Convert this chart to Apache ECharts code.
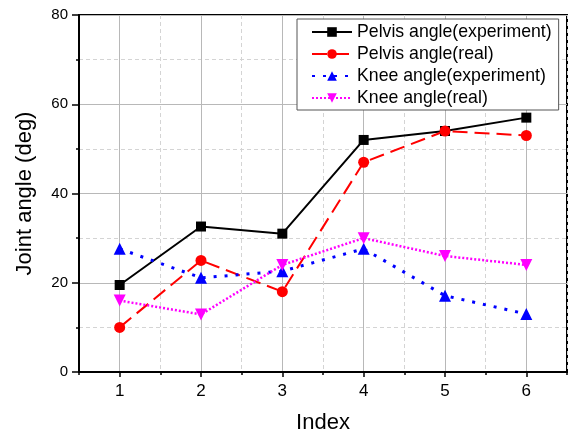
<!DOCTYPE html>
<html>
<head>
<meta charset="utf-8">
<script src="https://cdn.jsdelivr.net/npm/echarts@6/dist/echarts.min.js"></script>
<style>
    html, body {margin: 0; padding: 0; background: #fff;}
    #main {width: 569px; height: 439px;}
</style>
</head>
<body>
<div id="main"></div>
<script>
// 数据
var indexes = [1, 2, 3, 4, 5, 6];
var pelvisExp = [19.5, 32.6, 31.0, 52.0, 54.0, 57.0];
var pelvisReal = [10.0, 25.0, 18.0, 47.0, 54.0, 53.0];
var kneeExp = [27.6, 21.1, 22.6, 27.6, 17.1, 13.0];
var kneeReal = [16.0, 12.9, 24.0, 30.0, 26.0, 24.0];
var yTicks = [0, 20, 40, 60, 80];

var font = '"Liberation Sans", Arial, sans-serif';

function pairs(values) {
    return indexes.map(function (x, i) {
        return [x, values[i]];
    });
}

function makeSeries(name, values, color, lineType, width, symbol, size, rotate) {
    return {
        name: name,
        type: 'line',
        data: pairs(values),
        symbol: symbol,
        symbolSize: size,
        symbolRotate: rotate || 0,
        showSymbol: true,
        lineStyle: {color: color, width: width, type: lineType},
        itemStyle: {color: color},
        emphasis: {disabled: true},
        animation: false
    };
}

var chart = echarts.init(document.getElementById('main'));
chart.setOption({
    backgroundColor: '#fff',
    textStyle: {fontFamily: font},
    grid: {
        left: 79, right: 2, top: 15, bottom: 64,
        show: true, borderColor: '#000', borderWidth: 2, backgroundColor: 'transparent'
    },
    legend: {
        orient: 'vertical',
        left: 297,
        top: 19,
        itemWidth: 40,
        itemHeight: 12,
        itemGap: 2,
        padding: [3, 7, 2, 14],
        borderColor: '#555',
        borderWidth: 1,
        backgroundColor: '#fff',
        textStyle: {fontFamily: font, fontSize: 17.7, lineHeight: 20, color: '#000'},
        data: ['Pelvis angle(experiment)', 'Pelvis angle(real)', 'Knee angle(experiment)', 'Knee angle(real)']
    },
    xAxis: {
        type: 'value',
        min: 0.5,
        max: 6.5,
        interval: 1,
        name: 'Index',
        nameLocation: 'middle',
        nameGap: 40,
        nameTextStyle: {fontFamily: font, fontSize: 22, color: '#000'},
        axisLine: {show: true, lineStyle: {color: '#000', width: 2}},
        axisTick: {show: true, inside: false, length: 3, lineStyle: {color: '#000', width: 1.5}},
        minorTick: {show: true, splitNumber: 2, length: 5, lineStyle: {color: '#000', width: 1.5}},
        axisLabel: {
            customValues: indexes,
            fontFamily: font, fontSize: 17, color: '#000', margin: 11
        },
        splitLine: {show: true, lineStyle: {color: '#d4d4d4', width: 1, type: [4, 3]}},
        minorSplitLine: {show: true, lineStyle: {color: '#b8b8b8', width: 1}}
    },
    yAxis: {
        type: 'value',
        min: yTicks[0],
        max: yTicks[yTicks.length - 1],
        interval: 20,
        name: 'Joint angle (deg)',
        nameLocation: 'middle',
        nameGap: 43,
        nameTextStyle: {fontFamily: font, fontSize: 22, color: '#000'},
        axisLine: {show: true, lineStyle: {color: '#000', width: 2}},
        axisTick: {show: true, inside: false, length: 7, lineStyle: {color: '#000', width: 1.5}},
        minorTick: {show: true, splitNumber: 2, length: 3, lineStyle: {color: '#000', width: 1.5}},
        axisLabel: {fontFamily: font, fontSize: 15, color: '#000', margin: 11},
        splitLine: {show: true, lineStyle: {color: '#b8b8b8', width: 1}},
        minorSplitLine: {show: true, lineStyle: {color: '#d4d4d4', width: 1, type: [4, 3]}}
    },
    series: [
        makeSeries('Pelvis angle(experiment)', pelvisExp, '#000000', 'solid', 2, 'rect', 10),
        makeSeries('Pelvis angle(real)', pelvisReal, '#ff0000', [15, 7], 2, 'circle', 11),
        makeSeries('Knee angle(experiment)', kneeExp, '#0000ff', [3, 8], 3, 'triangle', 12),
        makeSeries('Knee angle(real)', kneeReal, '#ff00ff', [2, 2], 2.5, 'triangle', 12, 180)
    ]
});
</script>
</body>
</html>
